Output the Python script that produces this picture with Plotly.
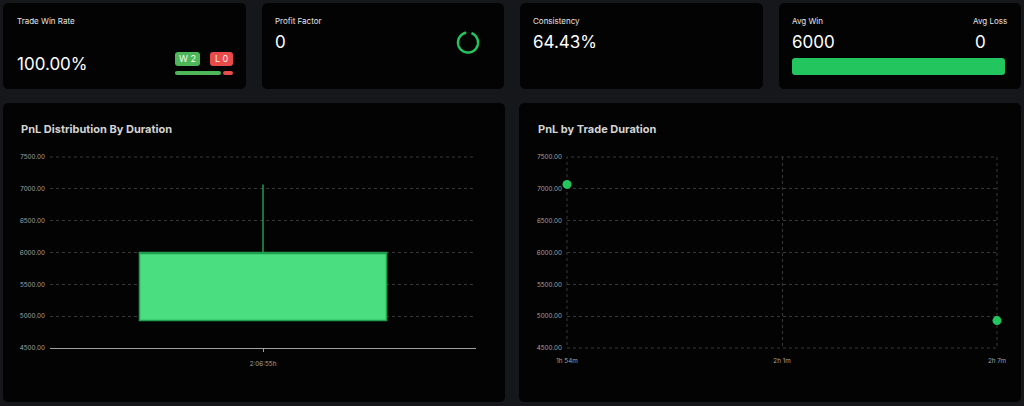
import numpy as np
import plotly.graph_objects as go

W, H = 1024, 406

# ---------------- data ----------------
stat_titles = ["Trade Win Rate", "Profit Factor", "Consistency", "Avg Win"]
stat_values = ["100.00%", "0", "64.43%", "6000"]
avg_loss_title = "Avg Loss"
avg_loss_value = "0"
wins = 2
losses = 0

box_category = ["2:06:55h"]
box_q1 = [4930]
box_median = [6000]
box_q3 = [6000]
box_lower = [4930]
box_upper = [7070]

trade_duration_sec = [6860, 7660]
trade_pnl = [7070, 4930]
dur_tickvals = [6860, 7260, 7660]
dur_ticktext = ["1h 54m", "2h 1m", "2h 7m"]

y_ticks = [4500, 5000, 5500, 6000, 6500, 7000, 7500]

chart_titles = ["PnL Distribution By Duration", "PnL by Trade Duration"]

# ---------------- helpers ----------------
def px(x):
    return x / W

def py(y):
    return 1 - y / H

def rrect(x0, y0, x1, y1, r):
    pts = [
        f"M{px(x0 + r)},{py(y0)}",
        f"L{px(x1 - r)},{py(y0)}",
        f"Q{px(x1)},{py(y0)} {px(x1)},{py(y0 + r)}",
        f"L{px(x1)},{py(y1 - r)}",
        f"Q{px(x1)},{py(y1)} {px(x1 - r)},{py(y1)}",
        f"L{px(x0 + r)},{py(y1)}",
        f"Q{px(x0)},{py(y1)} {px(x0)},{py(y1 - r)}",
        f"L{px(x0)},{py(y0 + r)}",
        f"Q{px(x0)},{py(y0)} {px(x0 + r)},{py(y0)}",
        "Z",
    ]
    return " ".join(pts)

shapes = []

def add_rrect(x0, y0, x1, y1, r, fill, layer="below"):
    shapes.append(dict(type="path", xref="paper", yref="paper",
                       path=rrect(x0, y0, x1, y1, r), fillcolor=fill,
                       line=dict(width=0, color=fill), layer=layer))

# cards
CARD = "#030303"
add_rrect(3, 3, 246, 89, 6, CARD)
add_rrect(262, 3, 504, 89, 6, CARD)
add_rrect(520, 3, 763, 89, 6, CARD)
add_rrect(779, 3, 1021, 89, 6, CARD)
add_rrect(3, 103, 505, 402, 6, CARD)
add_rrect(519, 103, 1021, 402, 6, CARD)

# win/loss badges and bars
add_rrect(175, 52, 200, 66, 3, "#4db75a", "above")
add_rrect(210, 52, 233, 66, 3, "#e94b4b", "above")
add_rrect(175, 71, 221, 75, 2, "#4db75a", "above")
add_rrect(223, 71, 233, 75, 2, "#e94b4b", "above")

# avg win bar
add_rrect(792, 58, 1005, 75, 3, "#22c55e", "above")

# ring (profit factor)
cx, cy, rad = 468, 42.5, 10
th = np.radians(np.linspace(100, 100 + 330, 80))
ring_path = "M" + " L".join(f"{px(cx + rad * np.cos(t))},{py(cy - rad * np.sin(t))}" for t in th)
shapes.append(dict(type="path", xref="paper", yref="paper", path=ring_path,
                   line=dict(color="#22c55e", width=2.5), layer="above"))

GRID = "#383838"
# dashed frame lines that plotly omits at the range edges
shapes.append(dict(type="line", xref="x domain", yref="y domain", x0=0, x1=1, y0=1, y1=1,
                   line=dict(color=GRID, width=1, dash="3px,3px"), layer="below"))
shapes.append(dict(type="rect", xref="x2 domain", yref="y2 domain", x0=0, x1=1, y0=0, y1=1,
                   line=dict(color=GRID, width=1, dash="3px,3px"), layer="below"))

FONT = "Inter"
annotations = []

def txt(x, y, s, size, color="#ffffff", xanchor="left", bold=False):
    annotations.append(dict(xref="paper", yref="paper", x=px(x), y=py(y),
                            text=f"<b>{s}</b>" if bold else s, showarrow=False,
                            xanchor=xanchor, yanchor="middle", borderpad=0,
                            font=dict(family=FONT, size=size, color=color)))

label_color = "#e6e6e6"
txt(16, 21, stat_titles[0], 8, label_color)
txt(16, 64, stat_values[0], 17)
txt(274, 21, stat_titles[1], 8, label_color)
txt(274, 42, stat_values[1], 17)
txt(532, 21, stat_titles[2], 8, label_color)
txt(532, 42, stat_values[2], 17)
txt(791, 21, stat_titles[3], 8, label_color)
txt(791, 42, stat_values[3], 17)
txt(1008, 21, avg_loss_title, 8, label_color, xanchor="right")
txt(987, 42, avg_loss_value, 17, xanchor="right")

txt(187.5, 59, f"W {wins}", 9, "#f0fff0", xanchor="center")
txt(221.5, 59, f"L {losses}", 9, "#fff0f0", xanchor="center")

txt(20, 129, chart_titles[0], 11, "#d4d4d4", bold=True)
txt(537, 129, chart_titles[1], 11, "#d4d4d4", bold=True)

# ---------------- figure ----------------
fig = go.Figure()

fig.add_trace(go.Box(
    x=box_category, q1=box_q1, median=box_median, q3=box_q3,
    lowerfence=box_lower, upperfence=box_upper,
    fillcolor="#4ade80", line=dict(color="#1f9e4e", width=1.5),
    width=0.58, whiskerwidth=0, boxpoints=False, showlegend=False,
    xaxis="x", yaxis="y",
))

fig.add_trace(go.Scatter(
    x=trade_duration_sec, y=trade_pnl, mode="markers",
    marker=dict(size=9, color="#22c55e"), cliponaxis=False,
    showlegend=False, xaxis="x2", yaxis="y2",
))

TICKFONT = dict(family=FONT, size=6.3, color="#a3a3a3")
ydom = [py(348), py(157)]

fig.update_layout(
    width=W, height=H,
    margin=dict(l=0, r=0, t=0, b=0, pad=0, autoexpand=False),
    paper_bgcolor="#16171b",
    plot_bgcolor="rgba(0,0,0,0)",
    shapes=shapes,
    annotations=annotations,
    showlegend=False,
    xaxis=dict(domain=[px(50), px(476)], type="category", range=[-0.5, 0.5],
               showline=True, linecolor="#a0a0a0", linewidth=1,
               ticks="outside", ticklen=3, tickcolor="#a0a0a0",
               showgrid=False, zeroline=False, tickfont=TICKFONT,
               anchor="y", automargin=False, ticklabelstandoff=6),
    yaxis=dict(domain=ydom, range=[4500, 7500], tickvals=y_ticks,
               tickformat=".2f", showgrid=True, gridcolor=GRID,
               griddash="3px,3px", zeroline=False, showline=False,
               tickfont=TICKFONT, anchor="x", ticklabelstandoff=4,
               automargin=False),
    xaxis2=dict(domain=[px(567), px(997)], range=[trade_duration_sec[0], trade_duration_sec[-1]],
                tickvals=dur_tickvals, ticktext=dur_ticktext,
                showgrid=True, gridcolor=GRID, griddash="3px,3px",
                zeroline=False, showline=False, tickfont=TICKFONT,
                anchor="y2", ticklabelstandoff=8, automargin=False),
    yaxis2=dict(domain=ydom, range=[4500, 7500], tickvals=y_ticks,
                tickformat=".2f", showgrid=True, gridcolor=GRID,
                griddash="3px,3px", zeroline=False, showline=False,
                tickfont=TICKFONT, anchor="x2", ticklabelstandoff=4,
                automargin=False),
)

fig.write_html("out.html")
